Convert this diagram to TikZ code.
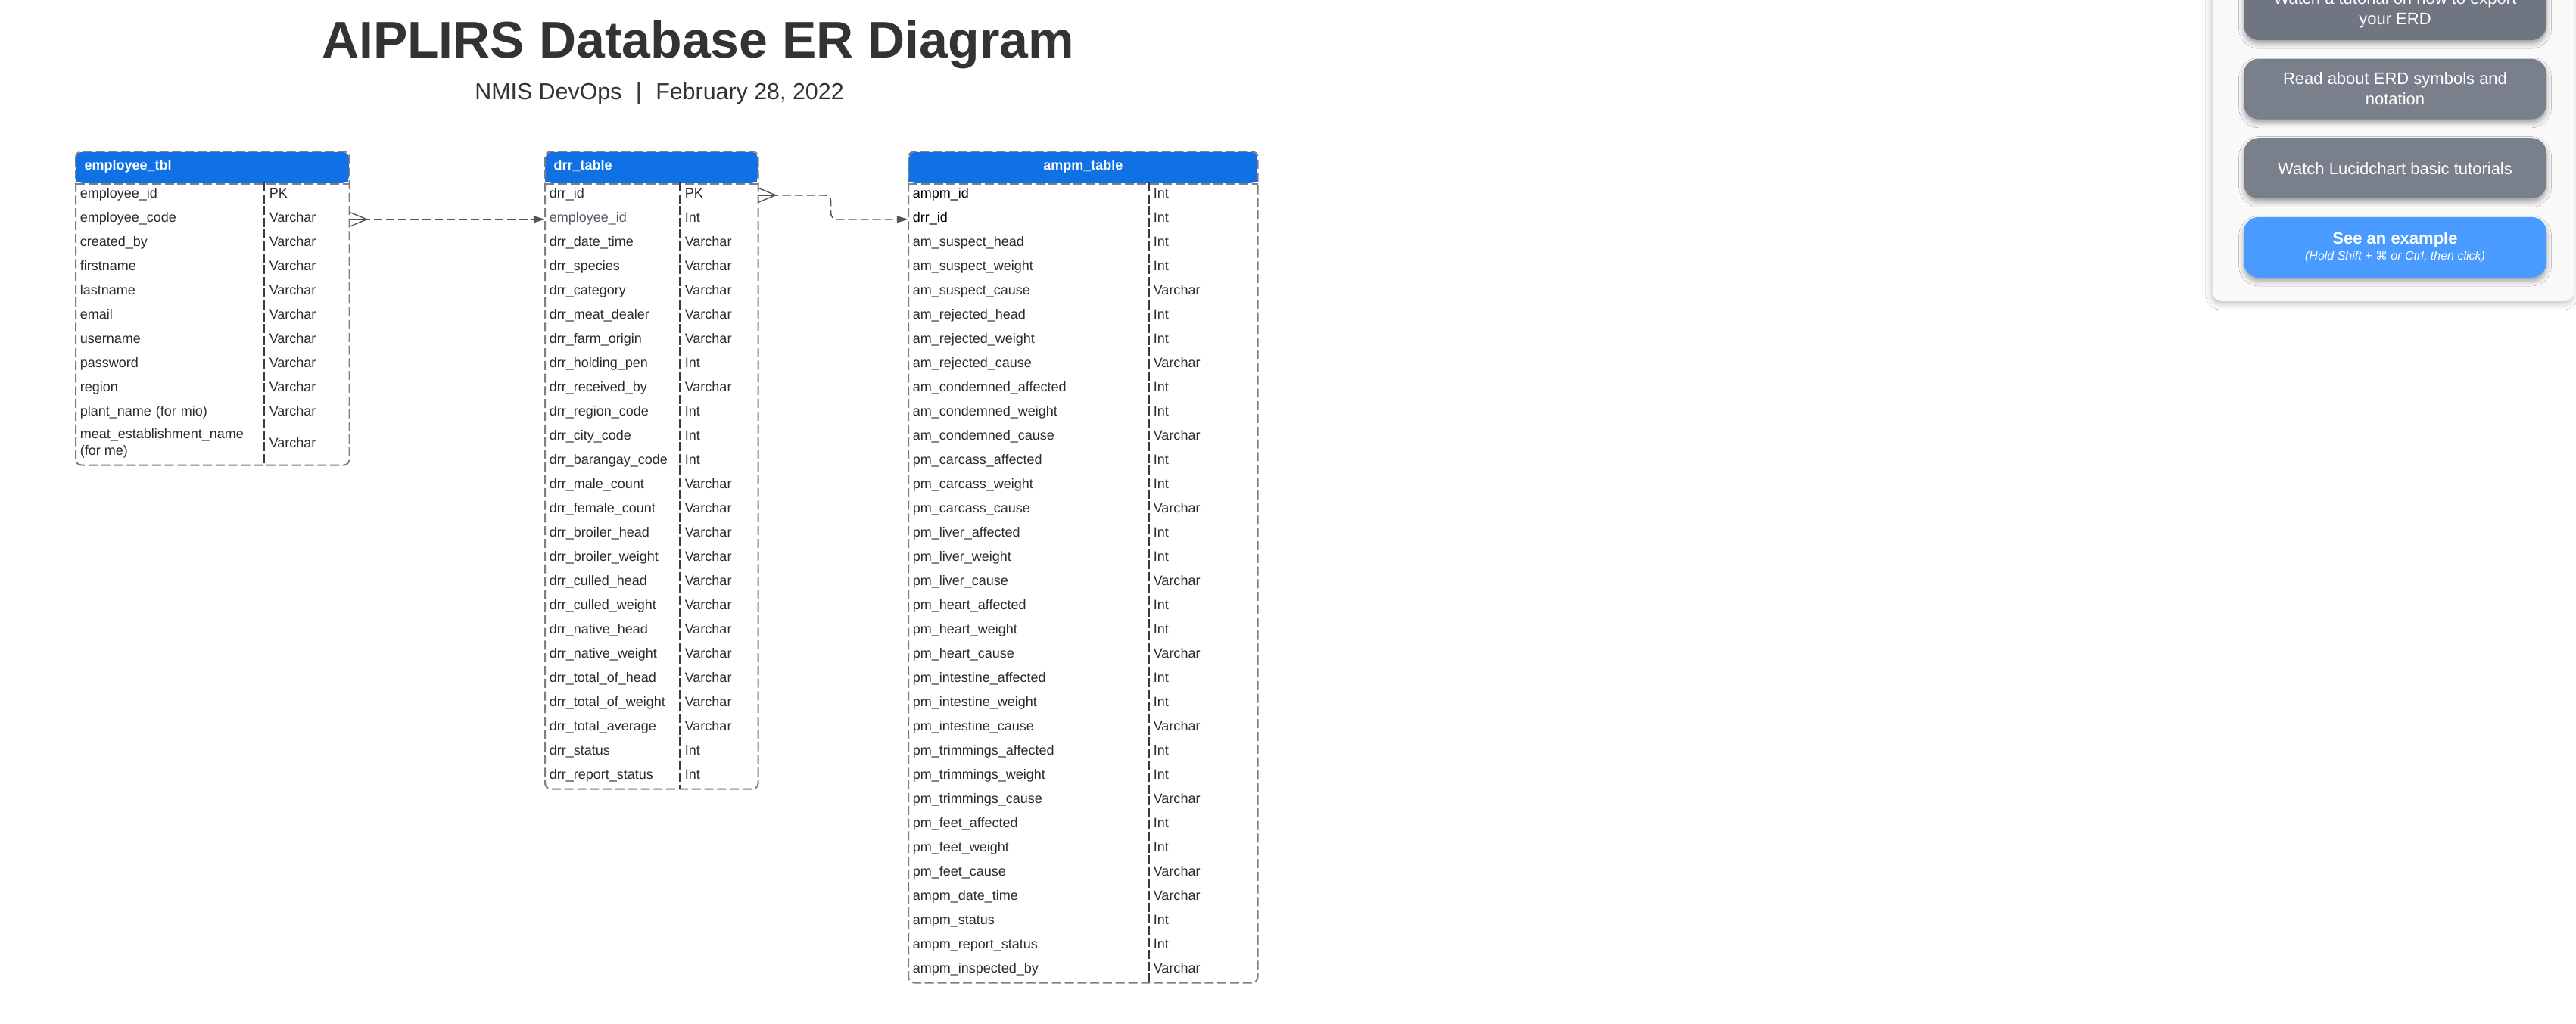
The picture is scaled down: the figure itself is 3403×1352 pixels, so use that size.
\documentclass[tikz,border=0pt]{standalone}
\usepackage{fontspec}
\setmainfont{Liberation Sans}
\newfontfamily\symbolfont{DejaVu Sans}
\usetikzlibrary{positioning,arrows.meta,shadows.blur}
\definecolor{hdrc}{HTML}{1071E5}
\definecolor{framec}{HTML}{7F7F7F}
\definecolor{divc}{HTML}{3A3A3A}
\definecolor{rowc}{HTML}{282C33}
\definecolor{fkc}{HTML}{4F5866}
\definecolor{linkc}{HTML}{555555}
\definecolor{titlec}{HTML}{333333}
\definecolor{panelc}{HTML}{F9F9F9}
\definecolor{btnc}{HTML}{79808B}
\definecolor{btndark}{HTML}{6F7581}
\definecolor{btnblue}{HTML}{4A9BFF}
\newcommand{\rowfont}{\fontsize{4.5pt}{5.5pt}\selectfont}
\newcommand{\btnfont}{\fontsize{5.5pt}{6.75pt}\selectfont}
\tikzset{
  tblhead/.style={anchor=north west,fill=hdrc,rounded corners=2pt,text=white,font=\rowfont\bfseries,minimum height=10.25pt,inner xsep=2.7pt,inner ysep=0pt,text height=3.15pt,text depth=1.35pt,align=left},
  tblrow/.style={anchor=north west,minimum height=8pt,inner xsep=1.25pt,inner ysep=0pt,font=\rowfont,text=rowc,text height=3.15pt,text depth=1.35pt,align=left},
  tbltype/.style={anchor=base west,inner sep=0pt,font=\rowfont,text=rowc},
  tblframe/.style={draw=framec,line width=0.5pt,dash pattern=on 3pt off 1.2pt},
  coldiv/.style={draw=divc,line width=0.3pt,dash pattern=on 3pt off 0.9pt},
  link/.style={draw=linkc,line width=0.4pt,dash pattern=on 2.75pt off 1.25pt,-{Triangle[length=3.8pt,width=2.2pt]}},
  crow/.style={draw=linkc,line width=0.35pt},
  helpbtn/.style={rounded corners=5pt,fill=btnc,text=white,minimum width=100pt,minimum height=20pt,inner sep=0pt,align=center,font=\btnfont,blur shadow={shadow xshift=0pt,shadow yshift=-1.2pt,shadow blur radius=1.6pt,shadow opacity=35}},
}
\begin{document}
\begin{tikzpicture}[x=0.25pt,y=-0.25pt]
  \path[use as bounding box,fill=white] (0,0) rectangle (3403,1352);

  % heading
  \node[font=\fontsize{17pt}{20pt}\selectfont\bfseries,text=titlec,anchor=base] (title) at (922,76) {AIPLIRS Database ER Diagram};
  \node[font=\fontsize{7.6pt}{9pt}\selectfont,text=titlec,anchor=base] (subtitle) at (871,131) {NMIS DevOps\hspace{4.6pt}|\hspace{4.6pt}February 28, 2022};

  % employee_tbl
  \fill[hdrc] (100,220) rectangle (460,241);
  \node[tblhead,text width=84.6pt] (emp) at (100,200) {employee\_tbl};
  \foreach \fname/\ftype [count=\i] in {employee\_id/PK,employee\_code/Varchar,created\_by/Varchar,firstname/Varchar,lastname/Varchar,email/Varchar,username/Varchar,password/Varchar,region/Varchar,plant\_name (for mio)/Varchar}{
    \node[tblrow,text width=87.5pt] (emp-\i) at (100,{241+32*(\i-1)}) {\fname};
    \path (emp-\i.base west) ++(255,0) node[tbltype] {\ftype};
  }
  \node[tblrow,text width=87.5pt,minimum height=13pt] (emp-11) at (100,561) {};
  \node[tbltype,anchor=north west,align=left] (emp-11-name) at (105,566) {meat\_establishment\_name\\(for me)};
  \path (emp-11.base west) ++(255,0) node[tbltype] {Varchar};
  \draw[tblframe,rounded corners=2pt] (emp.north west) rectangle (emp-11.south east);
  \draw[tblframe] (emp.south west) -- (emp.south east);
  \draw[coldiv] ([xshift=62.25pt]emp-1.north west) -- ([xshift=62.25pt]emp-11.south west);

  % drr_table
  \fill[hdrc] (720,220) rectangle (1000,241);
  \node[tblhead,text width=64.6pt] (drr) at (720,200) {drr\_table};
  \foreach \fname/\ftype [count=\i] in {drr\_id/PK,{\color{fkc}employee\_id}/Int,drr\_date\_time/Varchar,drr\_species/Varchar,drr\_category/Varchar,drr\_meat\_dealer/Varchar,drr\_farm\_origin/Varchar,drr\_holding\_pen/Int,drr\_received\_by/Varchar,drr\_region\_code/Int,drr\_city\_code/Int,drr\_barangay\_code/Int,drr\_male\_count/Varchar,drr\_female\_count/Varchar,drr\_broiler\_head/Varchar,drr\_broiler\_weight/Varchar,drr\_culled\_head/Varchar,drr\_culled\_weight/Varchar,drr\_native\_head/Varchar,drr\_native\_weight/Varchar,drr\_total\_of\_head/Varchar,drr\_total\_of\_weight/Varchar,drr\_total\_average/Varchar,drr\_status/Int,drr\_report\_status/Int}{
    \node[tblrow,text width=67.5pt] (drr-\i) at (720,{241+32*(\i-1)}) {\fname};
    \path (drr-\i.base west) ++(184,0) node[tbltype] {\ftype};
  }
  \draw[tblframe,rounded corners=2pt] (drr.north west) rectangle (drr-25.south east);
  \draw[tblframe] (drr.south west) -- (drr.south east);
  \draw[coldiv] ([xshift=44.5pt]drr-1.north west) -- ([xshift=44.5pt]drr-25.south west);

  % ampm_table
  \fill[hdrc] (1200,220) rectangle (1660,241);
  \node[tblhead,text width=109.6pt,align=center] (ampm) at (1200,200) {ampm\_table};
  \foreach \fname/\ftype [count=\i] in {{\color{black}ampm\_id}/Int,{\color{black}drr\_id}/Int,am\_suspect\_head/Int,am\_suspect\_weight/Int,am\_suspect\_cause/Varchar,am\_rejected\_head/Int,am\_rejected\_weight/Int,am\_rejected\_cause/Varchar,am\_condemned\_affected/Int,am\_condemned\_weight/Int,am\_condemned\_cause/Varchar,pm\_carcass\_affected/Int,pm\_carcass\_weight/Int,pm\_carcass\_cause/Varchar,pm\_liver\_affected/Int,pm\_liver\_weight/Int,pm\_liver\_cause/Varchar,pm\_heart\_affected/Int,pm\_heart\_weight/Int,pm\_heart\_cause/Varchar,pm\_intestine\_affected/Int,pm\_intestine\_weight/Int,pm\_intestine\_cause/Varchar,pm\_trimmings\_affected/Int,pm\_trimmings\_weight/Int,pm\_trimmings\_cause/Varchar,pm\_feet\_affected/Int,pm\_feet\_weight/Int,pm\_feet\_cause/Varchar,ampm\_date\_time/Varchar,ampm\_status/Int,ampm\_report\_status/Int,ampm\_inspected\_by/Varchar}{
    \node[tblrow,text width=112.5pt] (ampm-\i) at (1200,{241+32*(\i-1)}) {\fname};
    \path (ampm-\i.base west) ++(323,0) node[tbltype] {\ftype};
  }
  \draw[tblframe,rounded corners=2pt] (ampm.north west) rectangle (ampm-33.south east);
  \draw[tblframe] (ampm.south west) -- (ampm.south east);
  \draw[coldiv] ([xshift=79.5pt]ampm-1.north west) -- ([xshift=79.5pt]ampm-33.south west);

  % relations
  \draw[crow] (emp-2.east) ++(0,-9.5) -- ++(23,9.5) -- ++(-23,9.5);
  \draw[crow] (emp-2.east) -- ++(25,0);
  \draw[link] (emp-2.east) -- (drr-2.west);
  \draw[crow] (drr-1.east) ++(0,-9.5) -- ++(23,9.5) -- ++(-23,9.5);
  \draw[crow] (drr-1.east) -- ++(25,0);
  \draw[link,rounded corners=2pt] (drr-1.east) -- ++(96,0) |- (ampm-2.west);

  % help panel
  \fill[panelc,rounded corners=3pt,blur shadow={shadow xshift=-0.3pt,shadow yshift=-0.8pt,shadow blur radius=2pt,shadow opacity=25}] (2923,-40) rectangle (3400,398);
  \node[helpbtn,fill=btndark] (export) at (3164,13) {Watch a tutorial on how to export\\your ERD};
  \node[helpbtn,below=5.75pt of export] (notation) {Read about ERD symbols and\\notation};
  \node[helpbtn,below=5.75pt of notation] (basics) {Watch Lucidchart basic tutorials};
  \node[helpbtn,fill=btnblue,below=5.75pt of basics] (example) {{\bfseries See an example}\\[-1.5pt]{\fontsize{4pt}{5.25pt}\selectfont\itshape (Hold Shift + {\symbolfont ⌘} or Ctrl, then click)}};
\end{tikzpicture}
\end{document}
